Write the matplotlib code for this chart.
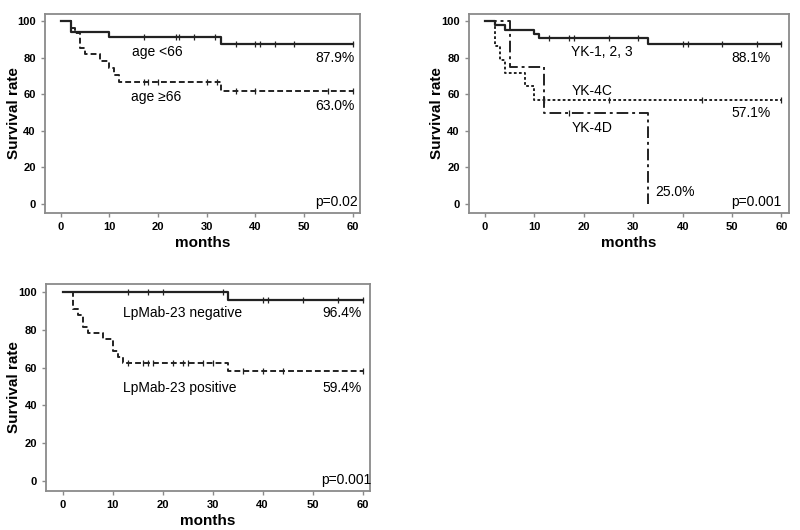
import numpy as np
import matplotlib.pyplot as plt

plt.rcParams['font.family'] = ['Liberation Sans', 'DejaVu Sans']

# === Daten ============================================================
# Panel A: Alter
young_t = [0, 2, 10, 33, 60]
young_s = [100, 94.2, 91.4, 87.6, 87.6]
young_cens = [17, 23.6, 24.3, 27.4, 31.6, 36, 40, 41, 44, 48, 60]
old_t = [0, 2, 3, 4, 5, 8, 10, 11, 12, 33, 60]
old_s = [100, 96.4, 93.3, 85.4, 81.8, 78.0, 74.1, 70.5, 66.8, 61.7, 61.7]
old_cens = [17, 18, 20, 30, 32, 36, 40, 55, 60]

# Panel B: YK-Klassifikation
yk123_t = [0, 2, 4, 10, 11, 33, 60]
yk123_s = [100, 97.8, 95.1, 93.0, 91.0, 87.5, 87.5]
yk123_cens = [13, 17, 18, 25, 31, 40, 41, 48, 55, 60]
yk4c_t = [0, 2, 3, 4, 8, 10, 60]
yk4c_s = [100, 86.5, 78.9, 71.4, 64.3, 57.1, 57.1]
yk4c_cens = [12, 25, 44, 60]
yk4d_t = [0, 5, 12, 33, 33]
yk4d_s = [100, 75, 50, 0, 0]
yk4d_cens = [17]

# Panel C: LpMab-23
neg_t = [0, 33, 60]
neg_s = [100, 95.7, 95.7]
neg_cens = [13, 17, 20, 32, 40, 41, 48, 55, 60]
pos_t = [0, 2, 3, 4, 5, 8, 10, 11, 12, 33, 60]
pos_s = [100, 90.7, 87.7, 81.2, 78.0, 75.0, 68.9, 65.7, 62.4, 58.0, 58.0]
pos_cens = [13, 16, 17, 18, 22, 24, 25, 28, 30, 36, 40, 44, 60]

STYLES = {
    'solid': dict(ls='-', lw=1.6),
    'dashed': dict(ls=(0, (3, 1.6)), lw=1.4),
    'dotted': dict(ls=(0, (1.4, 1.2)), lw=1.4),
    'dashdot': dict(ls=(0, (6, 2, 1.5, 2)), lw=1.4),
}


def km(ax, t, s, cens, style):
    ax.step(t, s, where='post', color='#222222', **STYLES[style])
    s_at = [s[np.searchsorted(t, c, side='right') - 1] for c in cens]
    ax.plot(cens, s_at, ls='none', marker='|', ms=4, mew=0.9, color='#222222')


def frame(ax):
    ax.set_xlim(-3.3, 61.5)
    ax.set_ylim(-5, 104)
    ax.set_xticks(np.arange(0, 61, 10))
    ax.set_yticks(np.arange(0, 101, 20))
    for sp in ax.spines.values():
        sp.set_color('#8a8a8a')
        sp.set_linewidth(1.3)
    ax.tick_params(colors='#8a8a8a', length=3, width=1, labelcolor='black', labelsize=8)
    for lab in ax.get_xticklabels() + ax.get_yticklabels():
        lab.set_fontweight('bold')
    ax.set_xlabel('months', fontsize=11, fontweight='bold', labelpad=3)
    ax.set_ylabel('Survival rate', fontsize=11, fontweight='bold', va='center')
    ax.yaxis.set_label_coords(-0.098, 0.5)


fig = plt.figure(figsize=(8, 5.3), dpi=100)
ax1 = fig.add_axes([0.056, 0.598, 0.394, 0.376])
ax2 = fig.add_axes([0.586, 0.598, 0.400, 0.376])
ax3 = fig.add_axes([0.0575, 0.074, 0.405, 0.390])

fs = 10
# A
km(ax1, young_t, young_s, young_cens, 'solid')
km(ax1, old_t, old_s, old_cens, 'dashed')
ax1.text(14.7, 82.9, 'age <66', fontsize=fs, va='center')
ax1.text(60.3, 79.6, '87.9%', fontsize=fs, va='center', ha='right')
ax1.text(14.5, 58.6, 'age \u226566', fontsize=fs, va='center')
ax1.text(60.3, 53.5, '63.0%', fontsize=fs, va='center', ha='right')
ax1.text(61.1, 0.9, 'p=0.02', fontsize=fs, va='center', ha='right')
frame(ax1)

# B
km(ax2, yk123_t, yk123_s, yk123_cens, 'solid')
km(ax2, yk4c_t, yk4c_s, yk4c_cens, 'dotted')
km(ax2, yk4d_t, yk4d_s, yk4d_cens, 'dashdot')
ax2.text(17.3, 82.9, 'YK-1, 2, 3', fontsize=fs, va='center')
ax2.text(57.9, 79.8, '88.1%', fontsize=fs, va='center', ha='right')
ax2.text(17.5, 61.7, 'YK-4C', fontsize=fs, va='center')
ax2.text(57.9, 49.6, '57.1%', fontsize=fs, va='center', ha='right')
ax2.text(17.5, 41.3, 'YK-4D', fontsize=fs, va='center')
ax2.text(34.5, 6.3, '25.0%', fontsize=fs, va='center')
ax2.text(60.0, 0.9, 'p=0.001', fontsize=fs, va='center', ha='right')
frame(ax2)

# C
km(ax3, neg_t, neg_s, neg_cens, 'solid')
km(ax3, pos_t, pos_s, pos_cens, 'dashed')
ax3.text(12.1, 88.9, 'LpMab-23 negative', fontsize=fs, va='center')
ax3.text(59.9, 88.9, '96.4%', fontsize=fs, va='center', ha='right')
ax3.text(12.1, 49.2, 'LpMab-23 positive', fontsize=fs, va='center')
ax3.text(59.9, 49.2, '59.4%', fontsize=fs, va='center', ha='right')
ax3.text(61.8, 0.9, 'p=0.001', fontsize=fs, va='center', ha='right')
frame(ax3)

fig.savefig('out.png', dpi=100)
